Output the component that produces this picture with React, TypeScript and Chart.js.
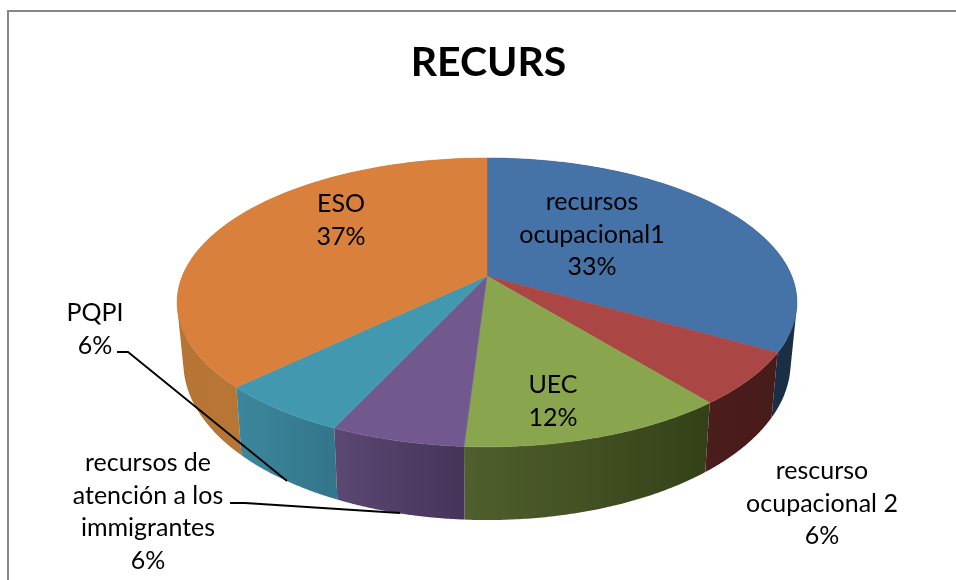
import React, { useEffect, useRef } from "react";
import { Chart, registerables } from "chart.js";

Chart.register(...registerables);

const categories = [
  "recursos ocupacional1",
  "rescurso ocupacional 2",
  "UEC",
  "recursos de atención a los immigrantes",
  "PQPI",
  "ESO",
];
const seriesValues = [17, 3, 6, 3, 3, 19];
const topColors = ["#4572A7", "#AA4643", "#89A54E", "#71588F", "#4198AF", "#D8803C"];
const wallLeftColors = ["#1B2F49", "#4B1D1C", "#505F2D", "#5B4873", "#3C879C", "#B67435"];
const wallRightColors = ["#1A2E46", "#471B1A", "#344118", "#45345A", "#33758A", "#BC7A3B"];
const labelLines = [
  ["recursos", "ocupacional1"],
  ["rescurso", "ocupacional 2"],
  ["UEC"],
  ["recursos de", "atención a los", "immigrantes"],
  ["PQPI"],
  ["ESO"],
];
const TITLE = "RECURS";

// Layout (projection of the pie disc; not data)
const CX = 487;
const TOP_DISC = { a: 304.7, b: 139.6, k: 0.183, y0: 276 };
const BOTTOM_DISC = { a: 298.5, b: 152, k: 0.183, y0: 334 };
const LABEL_POS = [
  { x: 592, y: 202 },
  { x: 822, y: 471 },
  { x: 553, y: 385 },
  { x: 148, y: 463 },
  { x: 95, y: 313 },
  { x: 341, y: 204 },
];
const LINE_H = 32.7;
const LEADERS = [
  [[117, 352], [128, 352], [287, 481]],
  [[230, 503], [245, 503], [400, 513]],
];
const FONT = "Lato, Carlito, Calibri, sans-serif";

type Disc = typeof TOP_DISC;

// Chart.js arc angles: -PI/2 is 12 o'clock, increasing clockwise.
const project = (d: Disc, ang: number) => {
  const u = Math.cos(ang);
  const v = Math.sin(ang);
  const w = 1 - d.k * v;
  return { x: CX + (d.a * u) / w, y: d.y0 + (d.b * v) / w };
};

const pie3d = {
  id: "pie3d",
  beforeDatasetsDraw(chart: any) {
    const ctx: CanvasRenderingContext2D = chart.ctx;
    const arcs = chart.getDatasetMeta(0).data as any[];
    const steps = 90;

    const order = arcs
      .map((arc, i) => ({ arc, i, mid: Math.sin((arc.startAngle + arc.endAngle) / 2) }))
      .sort((p, q) => p.mid - q.mid);

    // walls: one path of thin quads, all wound the same way, so the side silhouette is
    // filled and the quads leave no seams
    for (const { arc, i } of order) {
      const at = (s: number) => arc.startAngle + ((arc.endAngle - arc.startAngle) * s) / steps;
      const xs: number[] = [];
      for (let s = 0; s <= steps; s++) xs.push(project(TOP_DISC, at(s)).x, project(BOTTOM_DISC, at(s)).x);
      const g = ctx.createLinearGradient(Math.min(...xs), 0, Math.max(...xs), 0);
      g.addColorStop(0, wallLeftColors[i]);
      g.addColorStop(1, wallRightColors[i]);
      ctx.beginPath();
      for (let s = 0; s < steps; s++) {
        const quad = [
          project(TOP_DISC, at(s)),
          project(TOP_DISC, at(s + 1)),
          project(BOTTOM_DISC, at(s + 1)),
          project(BOTTOM_DISC, at(s)),
        ];
        let area = 0;
        quad.forEach((p, n) => {
          const q = quad[(n + 1) % 4];
          area += p.x * q.y - q.x * p.y;
        });
        if (area < 0) quad.reverse();
        quad.forEach((p, n) => (n ? ctx.lineTo(p.x, p.y) : ctx.moveTo(p.x, p.y)));
        ctx.closePath();
      }
      ctx.fillStyle = g;
      ctx.fill("nonzero");
    }

    // top disc
    arcs.forEach((arc) => {
      ctx.beginPath();
      ctx.moveTo(CX, TOP_DISC.y0);
      for (let s = 0; s <= steps; s++) {
        const p = project(TOP_DISC, arc.startAngle + ((arc.endAngle - arc.startAngle) * s) / steps);
        ctx.lineTo(p.x, p.y);
      }
      ctx.closePath();
      ctx.fillStyle = arc.options.backgroundColor;
      ctx.fill();
      ctx.strokeStyle = arc.options.backgroundColor;
      ctx.lineWidth = 0.5;
      ctx.stroke();
    });
    return false;
  },
  afterDraw(chart: any) {
    const ctx: CanvasRenderingContext2D = chart.ctx;
    const total = seriesValues.reduce((s, v) => s + v, 0);

    ctx.save();
    ctx.strokeStyle = "#000000";
    ctx.lineWidth = 1.8;
    for (const line of LEADERS) {
      ctx.beginPath();
      line.forEach(([x, y], n) => (n ? ctx.lineTo(x, y) : ctx.moveTo(x, y)));
      ctx.stroke();
    }

    ctx.fillStyle = "#000000";
    ctx.font = `25px ${FONT}`;
    ctx.textAlign = "center";
    ctx.textBaseline = "middle";
    categories.forEach((_, i) => {
      const lines = [...labelLines[i], `${Math.round((seriesValues[i] / total) * 100)}%`];
      lines.forEach((t, n) => ctx.fillText(t, LABEL_POS[i].x, LABEL_POS[i].y + n * LINE_H));
    });
    ctx.restore();
  },
};

const frame = {
  id: "frame",
  beforeDraw(chart: any) {
    const ctx: CanvasRenderingContext2D = chart.ctx;
    ctx.save();
    ctx.fillStyle = "#FFFFFF";
    ctx.fillRect(0, 0, chart.width, chart.height);
    ctx.strokeStyle = "#868686";
    ctx.lineWidth = 2;
    ctx.strokeRect(8, 11, 1000, 700);
    ctx.restore();
  },
};

export default function App() {
  const ref = useRef<HTMLCanvasElement>(null);
  useEffect(() => {
    const chart = new Chart(ref.current!, {
      type: "pie",
      data: {
        labels: categories,
        datasets: [{ data: seriesValues, backgroundColor: topColors, borderWidth: 0 }],
      },
      options: {
        animation: false,
        responsive: false,
        layout: { padding: { left: 21, top: 38 } },
        plugins: {
          legend: { display: false },
          tooltip: { enabled: false },
          title: {
            display: true,
            text: TITLE,
            color: "#000000",
            font: { family: FONT, size: 41, weight: "bold" },
            padding: 0,
          },
        },
      },
      plugins: [frame, pie3d],
    } as any);
    return () => chart.destroy();
  }, []);
  return (
    <canvas
      ref={ref}
      width={956}
      height={580}
      style={{ position: "fixed", left: 0, top: 0, display: "block" }}
    />
  );
}
